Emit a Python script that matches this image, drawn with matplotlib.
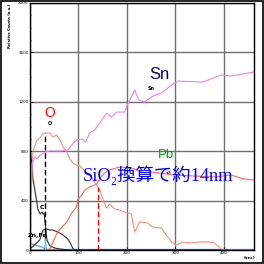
import matplotlib
matplotlib.use('Agg')
import matplotlib.pyplot as plt
from matplotlib.patches import Rectangle

# depth profile, sputter time (s) vs counts
t_sn = [0, 4, 10, 14, 21, 31, 41, 62, 78, 86, 96, 107, 115, 123, 133, 144, 158, 168, 179, 195,
        201, 209, 216, 224, 236, 250, 271, 292, 306, 357, 394, 415, 462]
sn = [400, 696, 753, 737, 769, 793, 802, 802, 810, 850, 891, 899, 874, 947, 972, 1028, 1109, 1077, 1117, 1117,
      1174, 1239, 1296, 1215, 1198, 1239, 1271, 1336, 1368, 1360, 1417, 1409, 1441]

t_o = [0, 2, 6, 14, 21, 27, 35, 41, 47, 55, 62, 68, 76, 82, 88, 96, 103, 109, 117, 123, 133, 144,
       150, 158, 164, 175, 185, 195, 209, 216, 226, 242, 253, 271, 281, 292, 302, 314, 333, 349,
       370, 380, 390, 396, 462]
o = [120, 405, 793, 891, 907, 947, 947, 947, 915, 931, 891, 834, 793, 737, 704, 688, 680, 656, 623, 615, 551, 486,
     413, 340, 372, 332, 324, 308, 291, 146, 227, 219, 186, 178, 121, 65, 40, 65, 57, 65,
     65, 57, 24, 0, 0]

t_pb = [0, 31, 37, 41, 51, 57, 66, 76, 86, 96, 99, 107, 113, 123, 138, 144, 154, 164, 185, 209,
        236, 250, 298, 380, 415, 441, 462]
pb = [0, 0, 0, 10, 97, 146, 186, 227, 300, 348, 413, 445, 486, 510, 534, 583, 623, 648, 672, 664,
      623, 632, 607, 591, 607, 575, 567]

t_c = [0, 2, 4, 6, 10, 14, 16, 21, 25, 27, 29, 31, 35, 41, 51, 62, 80, 462]
c = [850, 753, 696, 575, 486, 389, 332, 291, 308, 291, 300, 227, 81, 32, 16, 8, 0, 0]

t_znfe = [0, 20, 27, 35, 41, 47, 57, 68, 76, 82, 88, 92, 462]
znfe = [8, 80, 162, 170, 162, 162, 146, 121, 97, 65, 16, 0, 0]

t_si = [0, 10, 25, 31, 40, 462]
si = [57, 40, 24, 8, 4, 4]

peak_o = 31      # O peak position
half_o = 140     # 50% of O
sio2_text = 'SiO\u2082換算で約14nm'

fig = plt.figure(figsize=(2.64, 2.64), dpi=100)
ax = fig.add_axes([30/264, 14/264, 224/264, 247/264])

ax.plot(t_si, si, color='#6aa8f0', lw=1.0)
ax.plot(t_znfe, znfe, color='#303030', lw=0.8)
ax.plot(t_c, c, color='#303030', lw=0.8)
ax.plot(t_pb, pb, color='#f46a5a', lw=0.8)
ax.plot(t_o, o, color='#f49080', lw=0.8)
ax.plot(t_sn, sn, color='#ee82ee', lw=0.8)

# markers of the interface
ax.vlines(peak_o, 0, 947, colors='black', linestyles=(0, (4, 2)), lw=1.0)
ax.vlines(half_o, 0, 510, colors='red', linestyles=(0, (4, 2)), lw=1.0)
ax.vlines(peak_o, 0, 100, colors='cyan', lw=1.0)
ax.annotate('', xy=(-2, 227), xytext=(half_o, 227),
            arrowprops=dict(arrowstyle='<|-|>', color='red', lw=1.2, mutation_scale=6))

ax.set_xlim(0, 462)
ax.set_ylim(0, 2000)
ax.set_xticks([0, 100, 200, 300, 400])
ax.set_yticks([0, 400, 800, 1200, 1600, 2000])
ax.set_xticks(range(0, 462, 20), minor=True)
ax.set_yticks(range(0, 2000, 100), minor=True)
ax.tick_params(labelsize=3, length=2, width=0.6, direction='in', pad=1)
ax.tick_params(which='minor', length=1, width=0.5, direction='in')
ax.grid(True, color='#707070', lw=1.0)
ax.set_axisbelow(True)
for s in ax.spines.values():
    s.set_linewidth(1.0)

ax.text(267, 1425, 'Sn', color='#000080', fontsize=12, family='Liberation Sans', ha='center', va='center')
ax.text(250, 1304, 'Sn', color='black', fontsize=3.5, weight='bold', ha='center', va='center')
ax.text(41, 1109, 'O', color='red', fontsize=10, family='Liberation Sans', ha='center', va='center')
ax.text(41, 1028, 'O', color='black', fontsize=3.5, weight='bold', ha='center', va='center')
ax.text(280, 769, 'Pb', color='#00a000', fontsize=9.5, family='Liberation Sans', ha='center', va='center')
ax.text(25, 348, 'C', color='black', fontsize=4.5, weight='bold', ha='center', va='center')
ax.text(16, 121, 'Zn,Fe', color='black', fontsize=4.5, weight='bold', ha='center', va='center')
ax.text(108, 560, sio2_text, color='#0000ff', fontsize=13.2,
        family=['Liberation Serif', 'DejaVu Serif', 'Noto Sans CJK JP'], ha='left', va='baseline')

fig.text(10/264, 1 - 4/264, 'Relative Counts (a.u.)', rotation=90, fontsize=2.6, weight='bold',
         ha='center', va='top')
fig.text(250/264, 1 - 258/264, '(sec)', fontsize=3, weight='bold', ha='center', va='center')

fig.patches.append(Rectangle((1/264, 1/264), 262/264, 262/264, transform=fig.transFigure,
                             fill=False, edgecolor='black', lw=1.2))

fig.savefig('out.png', dpi=100)
